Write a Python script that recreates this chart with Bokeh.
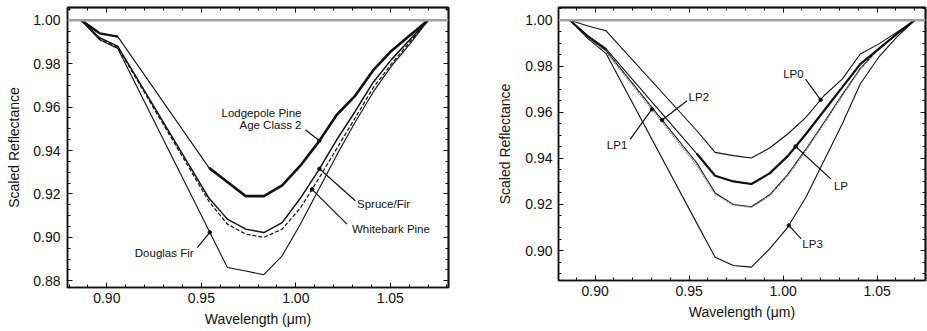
import numpy as np
from bokeh.plotting import figure
from bokeh.models import (Range1d, LinearAxis, Span, FixedTicker, PrintfTickFormatter)
from bokeh.layouts import row
from bokeh.embed import file_html
from bokeh.resources import INLINE
from bokeh.core.properties import value

# ---------------- data ----------------
wavelength = [0.8865, 0.8962, 0.9058, 0.9541, 0.9638, 0.9735, 0.9831, 0.9928,
              1.0024, 1.0121, 1.0217, 1.0314, 1.0410, 1.0507, 1.0603, 1.0700]

# left panel: species
lodgepole = [1.000, 0.994, 0.9925, 0.932, 0.9255, 0.919, 0.919, 0.924,
             0.933, 0.944, 0.9565, 0.9652, 0.977, 0.986, 0.993, 1.000]
spruce_fir = [1.000, 0.992, 0.988, 0.918, 0.9084, 0.9038, 0.9022, 0.9068,
              0.918, 0.931, 0.945, 0.958, 0.9715, 0.982, 0.991, 1.000]
whitebark = [1.000, 0.9915, 0.9875, 0.9165, 0.9061, 0.9015, 0.9000, 0.9038,
             0.9135, 0.927, 0.941, 0.955, 0.969, 0.980, 0.990, 1.000]
douglas_fir = [1.000, 0.991, 0.987, 0.903, 0.8861, 0.8845, 0.8828, 0.8915,
               0.906, 0.922, 0.938, 0.953, 0.967, 0.979, 0.989, 1.000]

# right panel: lodgepole pine age classes
lp0 = [1.000, 0.9975, 0.9954, 0.952, 0.9426, 0.9412, 0.9402, 0.9445,
       0.9506, 0.9578, 0.9672, 0.9744, 0.9853, 0.9896, 0.9947, 1.000]
lp = [1.000, 0.993, 0.9875, 0.942, 0.9325, 0.930, 0.9289, 0.9335,
      0.941, 0.9506, 0.9607, 0.9708, 0.9809, 0.9874, 0.9939, 1.000]
lp1 = [1.000, 0.9925, 0.9862, 0.937, 0.9245, 0.9198, 0.9188, 0.9238,
       0.9325, 0.9434, 0.955, 0.9672, 0.9788, 0.9874, 0.9939, 1.000]
lp2 = [1.000, 0.9925, 0.9868, 0.938, 0.925, 0.920, 0.919, 0.9242,
       0.9330, 0.9440, 0.9556, 0.9676, 0.979, 0.9876, 0.994, 1.000]
lp3 = [1.000, 0.992, 0.9855, 0.9118, 0.8971, 0.8935, 0.8928, 0.9007,
       0.9101, 0.9231, 0.939, 0.9549, 0.9723, 0.9838, 0.9925, 1.000]

# tick positions
x_major = [0.85, 0.90, 0.95, 1.00, 1.05, 1.10]
x_minor = [round(0.85 + 0.01 * i, 3) for i in range(26)]
y_major = [round(0.86 + 0.02 * i, 3) for i in range(9)]
y_minor = [round(0.86 + 0.005 * i, 4) for i in range(33)]

# annotations
left_labels = ["Lodgepole Pine", "Age Class 2", "Spruce/Fir", "Whitebark Pine", "Douglas Fir"]
left_label_x = [1.0030, 1.0030, 1.0324, 1.0297, 0.9148]
left_label_y = [0.9575, 0.9519, 0.9153, 0.9038, 0.8930]
left_label_align = ["right", "right", "left", "left", "left"]
left_ptr_x0 = [1.0051, 1.0315, 1.0271, 0.9479]
left_ptr_y0 = [0.9496, 0.9169, 0.9061, 0.8953]
left_ptr_w = [1.0125, 1.0125, 1.0086, 0.9545]

right_labels = ["LP0", "LP2", "LP1", "LP", "LP3"]
right_label_x = [1.0000, 0.9497, 0.9062, 1.0270, 1.0102]
right_label_y = [0.9766, 0.9668, 0.9460, 0.9282, 0.9029]
right_ptr_x0 = [1.0119, 0.9489, 0.9187, 1.0253, 1.0096]
right_ptr_y0 = [0.9744, 0.9650, 0.9484, 0.9311, 0.9051]
right_ptr_w = [1.0199, 0.9356, 0.9302, 1.0066, 1.0030]

FONT = "Liberation Sans"
INK = "#111111"


def tick_only_axis(ticks, tick_len):
    ax = LinearAxis(ticker=FixedTicker(ticks=[], minor_ticks=ticks))
    ax.axis_line_color = INK
    ax.axis_line_width = 1.5
    ax.minor_tick_in = tick_len
    ax.minor_tick_out = 0
    ax.minor_tick_line_color = INK
    ax.major_tick_line_color = None
    return ax


def make_fig(xr, yr, fw, fh, bl, br, bt, bb):
    p = figure(frame_width=fw, frame_height=fh, output_backend="svg",
               toolbar_location=None, x_range=Range1d(*xr), y_range=Range1d(*yr),
               min_border_left=bl, min_border_right=br, min_border_top=bt,
               min_border_bottom=bb, background_fill_color="white",
               border_fill_color="white")
    p.xgrid.grid_line_color = None
    p.ygrid.grid_line_color = None
    p.outline_line_color = INK
    p.outline_line_width = 1.5
    p.xaxis.ticker = FixedTicker(ticks=x_major, minor_ticks=x_minor)
    p.yaxis.ticker = FixedTicker(ticks=y_major, minor_ticks=y_minor)
    p.xaxis.formatter = PrintfTickFormatter(format="%.2f")
    p.yaxis.formatter = PrintfTickFormatter(format="%.2f")
    p.xaxis.axis_label = "Wavelength (μm)"
    p.yaxis.axis_label = "Scaled Reflectance"
    for ax in (p.xaxis[0], p.yaxis[0]):
        ax.axis_line_color = INK
        ax.axis_line_width = 1.5
        ax.major_tick_in = 5
        ax.major_tick_out = 0
        ax.minor_tick_in = 3
        ax.minor_tick_out = 0
        ax.major_tick_line_color = INK
        ax.minor_tick_line_color = INK
        ax.major_label_text_font = FONT
        ax.major_label_text_font_size = "14px"
        ax.major_label_text_color = INK
        ax.axis_label_text_font = FONT
        ax.axis_label_text_font_size = "14px"
        ax.axis_label_text_font_style = "normal"
        ax.axis_label_text_color = INK
    # tick-only axes on top and right (major + minor ticks, no labels)
    p.add_layout(tick_only_axis(x_major, 5), "above")
    p.add_layout(tick_only_axis(x_minor, 3), "above")
    p.add_layout(tick_only_axis(y_major, 5), "right")
    p.add_layout(tick_only_axis(y_minor, 3), "right")
    p.add_layout(Span(location=1.0, dimension="width", line_color="#a0a0a0",
                      line_width=2.5))
    return p


def pointers(p, x0s, y0s, ws, series):
    for x0, y0, w, s in zip(x0s, y0s, ws, series):
        yt = float(np.interp(w, wavelength, s))
        p.line([x0, w], [y0, yt], line_color=INK, line_width=1.2)
        p.scatter([w], [yt], size=3.5, color=INK)


# ---------------- left panel ----------------
p1 = make_fig((0.8792, 1.0808), (0.8769, 1.0059), 381, 280, 67, 22, 7, 44)
p1.xaxis[0].major_label_standoff = 9
p1.xaxis[0].axis_label_standoff = 9
p1.yaxis[0].major_label_standoff = 7
p1.yaxis[0].axis_label_standoff = 8

p1.line(wavelength, douglas_fir, line_color=INK, line_width=1.1)
p1.line(wavelength, whitebark, line_color=INK, line_width=1.2, line_dash="4 2")
p1.line(wavelength, spruce_fir, line_color=INK, line_width=1.5)
p1.line(wavelength, lodgepole, line_color=INK, line_width=1.1)
p1.line(wavelength[:3], lodgepole[:3], line_color=INK, line_width=2.4)
p1.line(wavelength[3:], lodgepole[3:], line_color=INK, line_width=2.6)

pointers(p1, left_ptr_x0, left_ptr_y0, left_ptr_w,
         [lodgepole, spruce_fir, whitebark, douglas_fir])
for t, x, y, a in zip(left_labels, left_label_x, left_label_y, left_label_align):
    p1.text([x], [y], text=[t], text_align=a, text_baseline="middle",
            text_font=value(FONT), text_font_size="11.5px", text_color=INK)

# ---------------- right panel ----------------
p2 = make_fig((0.8805, 1.0757), (0.8870, 1.0055), 367, 273, 88, 2, 7, 51)
p2.xaxis[0].major_label_standoff = 7
p2.xaxis[0].axis_label_standoff = 9
p2.yaxis[0].major_label_standoff = 6
p2.yaxis[0].axis_label_standoff = 9

p2.line(wavelength, lp3, line_color=INK, line_width=1.1)
p2.line(wavelength, lp2, line_color=INK, line_width=1.1)
p2.line(wavelength, lp1, line_color="#777777", line_width=1.6, line_dash="1 1")
p2.line(wavelength, lp0, line_color=INK, line_width=1.1)
p2.line(wavelength, lp, line_color=INK, line_width=1.1)
p2.line(wavelength[:3], lp[:3], line_color=INK, line_width=2.0)
p2.line(wavelength[3:], lp[3:], line_color=INK, line_width=2.2)

pointers(p2, right_ptr_x0, right_ptr_y0, right_ptr_w, [lp0, lp2, lp1, lp, lp3])
for t, x, y in zip(right_labels, right_label_x, right_label_y):
    p2.text([x], [y], text=[t], text_align="left", text_baseline="middle",
            text_font=value(FONT), text_font_size="11.5px", text_color=INK)

layout = row(p1, p2, spacing=0)
open("out.html", "w").write(file_html(layout, INLINE))
